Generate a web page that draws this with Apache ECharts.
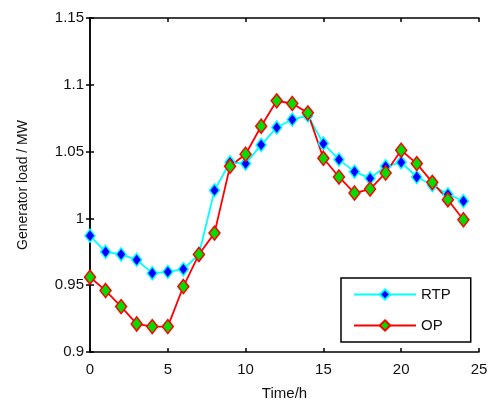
<!doctype html>
<html>
<head>
<meta charset="UTF-8">
<script src="https://cdn.jsdelivr.net/npm/echarts@6/dist/echarts.min.js"></script>
</head>
<body style="margin:0;background:#fff;">
<div id="chart" style="width:491px;height:409px;"></div>
<script>
// hours 0..24
var hours = [0,1,2,3,4,5,6,7,8,9,10,11,12,13,14,15,16,17,18,19,20,21,22,23,24];
var rtp = [0.987,0.975,0.973,0.969,0.959,0.960,0.962,0.973,1.021,1.042,1.041,1.055,1.068,1.074,1.077,1.056,1.044,1.035,1.030,1.039,1.042,1.031,1.025,1.018,1.013];
var op = [0.956,0.946,0.934,0.921,0.919,0.919,0.949,0.973,0.989,1.039,1.048,1.069,1.088,1.086,1.079,1.045,1.031,1.019,1.022,1.034,1.051,1.041,1.027,1.014,0.999];
var xTicks = [0,5,10,15,20,25];
var yTicks = [0.9,0.95,1,1.05,1.1,1.15];

function pairs(ys) {
    return hours.map(function (h, i) { return [h, ys[i]]; });
}

var chart = echarts.init(document.getElementById('chart'));
var font = 'Liberation Sans, Arial, sans-serif';
var axisLine = { show: true, lineStyle: { color: '#000', width: 1.5 } };
var tick = { show: true, inside: true, length: 4, lineStyle: { color: '#000', width: 1.5 } };

var option = {
    animation: false,
    grid: { left: 90, top: 18, right: 12, bottom: 57 },
    legend: {
        orient: 'vertical',
        left: 341, top: 278,
        padding: [9, 20, 9, 12],
        itemGap: 16,
        itemWidth: 62,
        itemHeight: 13,
        borderColor: '#000',
        borderWidth: 1.5,
        backgroundColor: '#fff',
        textStyle: { fontFamily: font, fontSize: 15, color: '#111' },
        data: ['RTP', 'OP']
    },
    xAxis: [{
        type: 'value', min: 0, max: 25, interval: 5,
        axisLine: axisLine, axisTick: tick, splitLine: { show: false },
        axisLabel: { fontFamily: font, fontSize: 15, color: '#111', margin: 10 },
        name: 'Time/h', nameLocation: 'middle', nameGap: 34,
        nameTextStyle: { fontFamily: font, fontSize: 15, color: '#111' }
    }, {
        type: 'value', min: 0, max: 25, interval: 5, position: 'top',
        axisLine: axisLine, axisTick: tick, splitLine: { show: false },
        axisLabel: { show: false }
    }],
    yAxis: [{
        type: 'value', min: 0.9, max: 1.15, interval: 0.05,
        axisLine: axisLine, axisTick: tick, splitLine: { show: false },
        axisLabel: {
            fontFamily: font, fontSize: 15, color: '#111', margin: 6,
            formatter: function (v) { return String(Math.round(v * 100) / 100); }
        },
        name: 'Generator load / MW', nameLocation: 'middle', nameGap: 60,
        nameTextStyle: { fontFamily: font, fontSize: 14, color: '#111' }
    }, {
        type: 'value', min: 0.9, max: 1.15, interval: 0.05, position: 'right',
        axisLine: axisLine, axisTick: tick, splitLine: { show: false },
        axisLabel: { show: false }
    }],
    series: [{
        name: 'RTP', type: 'line', data: pairs(rtp),
        symbol: 'diamond', symbolSize: [10, 13],
        lineStyle: { color: '#00ffff', width: 1.8 },
        itemStyle: { color: '#0000ff', borderColor: '#00ffff', borderWidth: 1.5 }
    }, {
        name: 'OP', type: 'line', data: pairs(op),
        symbol: 'diamond', symbolSize: [11, 14],
        lineStyle: { color: '#ff0000', width: 1.8 },
        itemStyle: { color: '#00dd00', borderColor: '#ff0000', borderWidth: 1.5 }
    }]
};
chart.setOption(option);
</script>
</body>
</html>
